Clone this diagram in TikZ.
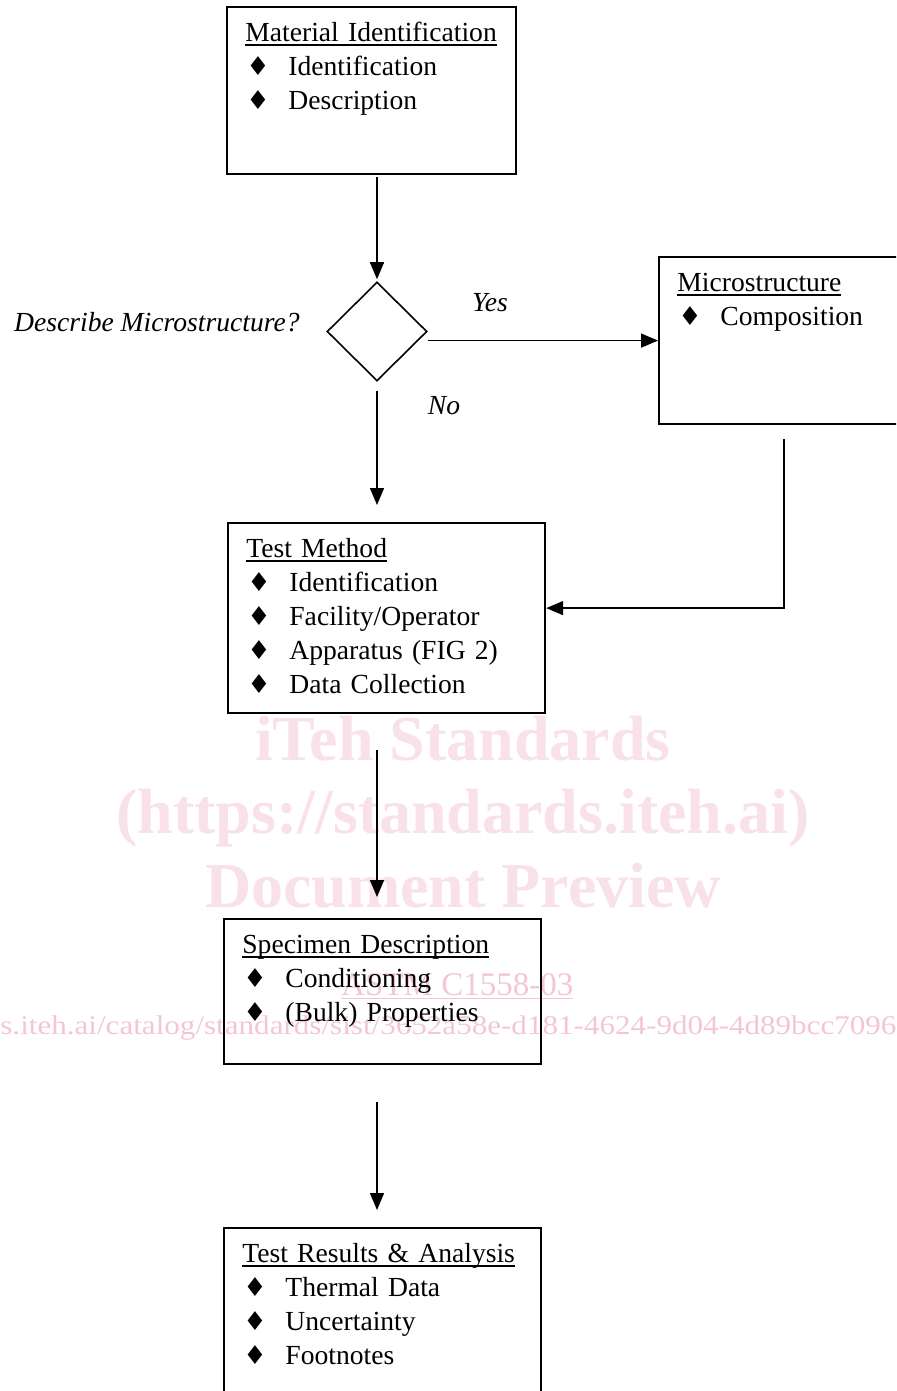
\documentclass[tikz,border=0pt]{standalone}
\usepackage{fontspec}
\usepackage{graphicx}
\setmainfont{Liberation Serif}
\newfontfamily\symfont{DejaVu Sans}
\usepackage{tikz}
\usetikzlibrary{shapes.geometric,arrows.meta}
\definecolor{ink}{HTML}{000000}
\definecolor{wmpale}{HTML}{F9E1E8}
\definecolor{wmpink}{HTML}{F3C6D2}
\newsavebox\hdbox
\newcommand\hd[1]{\sbox\hdbox{#1}\rlap{\rule[-2.2pt]{\wd\hdbox}{0.9pt}}\usebox\hdbox}
\newcommand\itm[1]{\makebox[21.5pt][l]{\hspace{0.5pt}{\symfont\fontsize{13}{13}\selectfont\char"2666}}#1}
\tikzset{
  box/.style={draw=ink, line width=1.1pt, anchor=north west, inner sep=0pt},
  txt/.style={anchor=north west, inner xsep=9.5pt, inner ysep=5.6pt, text width=160pt, align=left, font=\fontsize{13.8}{17}\selectfont},
  dec/.style={draw=ink, diamond, line width=0.8pt, inner sep=0pt, minimum width=50pt, minimum height=49.5pt},
  arr/.style={draw=ink, line width=0.75pt, -{Triangle[length=8.5pt,width=7pt]}},
  lab/.style={font=\fontsize{13.8}{17}\selectfont\itshape, inner sep=0pt, anchor=base},
  wm/.style={text=wmpale, font=\fontsize{32}{32}\selectfont\bfseries, inner sep=0pt, anchor=base},
  wms/.style={text=wmpink, inner sep=0pt, anchor=base west},
}

\begin{document}
\begin{tikzpicture}[x=0.5pt,y=-0.5pt]
  \useasboundingbox (0,0) rectangle (896,1391);
  \clip (0,0) rectangle (896,1391);

  % watermark
  \node[wm] (wm1) at (463,760) {iTeh Standards};
  \node[wm] (wm2) at (463,833) {(https://standards.iteh.ai)};
  \node[wm] (wm3) at (463,907) {Document Preview};
  \node[wms, font=\fontsize{16.5}{17}\selectfont] (wm4) at (341,995) {\hd{ASTM C1558-03}};
  \node[wms, font=\fontsize{13.5}{14}\selectfont] (wm5) at (0,1034)
    {\resizebox{448pt}{\height}{s.iteh.ai/catalog/standards/sist/3652a58e-d181-4624-9d04-4d89bcc7096}};

  % boxes
  \node[box, minimum width=144.5pt, minimum height=83.5pt] (matid) at (226,6) {};
  \node[txt] at (matid.north west) {\strut\hd{Material Identification}\\ \itm{Identification}\\ \itm{Description}};

  \node[box, minimum width=125pt, minimum height=83.5pt] (micro) at (658,256) {};
  \node[txt] at (micro.north west) {\strut\hd{Microstructure}\\ \itm{Composition}};

  \node[box, minimum width=158.5pt, minimum height=95pt] (test) at (227,522) {};
  \node[txt] at (test.north west) {\strut\hd{Test Method}\\ \itm{Identification}\\ \itm{Facility/Operator}\\ \itm{Apparatus (FIG 2)}\\ \itm{Data Collection}};

  \node[box, minimum width=158.5pt, minimum height=72.5pt] (spec) at (223,918) {};
  \node[txt] at (spec.north west) {\strut\hd{Specimen Description}\\ \itm{Conditioning}\\ \itm{(Bulk) Properties}};

  \node[box, minimum width=158.5pt, minimum height=95pt] (res) at (223,1227) {};
  \node[txt] at (res.north west) {\strut\hd{Test Results \& Analysis}\\ \itm{Thermal Data}\\ \itm{Uncertainty}\\ \itm{Footnotes}};

  % decision
  \node[dec] (dia) at (377,331.5) {};
  \node[lab, anchor=base east] (ask) at (300,331) {Describe Microstructure?};
  \node[lab] (yes) at (490,311) {Yes};
  \node[lab] (no) at (444,414) {No};

  % arrows
  \draw[arr, shorten <=1pt, shorten >=1pt] (dia |- matid.south) -- (dia.north);
  \draw[arr] (dia.east |- micro.west) -- (micro.west);
  \draw[arr, shorten <=4.5pt, shorten >=8.5pt] (dia.south) -- (dia |- test.north);
  \draw[arr, shorten <=7pt] (micro.south) |- ([yshift=5pt]test.east);
  \draw[arr, shorten <=18pt, shorten >=10.5pt] (dia |- test.south) -- (dia |- spec.north);
  \draw[arr, shorten <=18.5pt, shorten >=8.5pt] (dia |- spec.south) -- (dia |- res.north);
\end{tikzpicture}
\end{document}
